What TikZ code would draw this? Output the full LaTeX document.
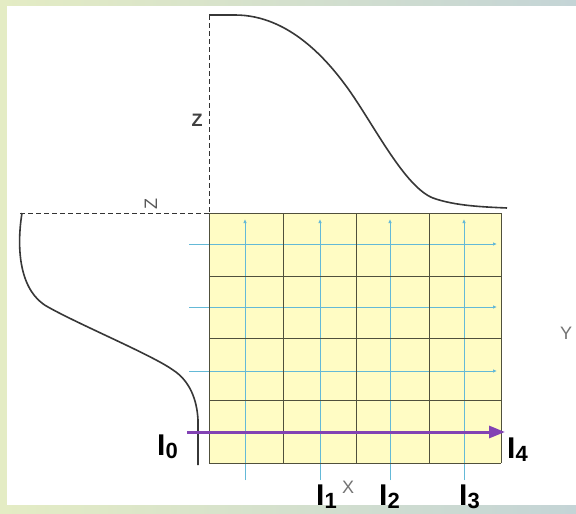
\documentclass[tikz,border=0pt]{standalone}
\usepackage{fontspec}
\setmainfont{Liberation Sans}
\usepackage{tikz}
\usetikzlibrary{arrows.meta}
\definecolor{bandleft}{RGB}{228,236,196}
\definecolor{bandright}{RGB}{196,212,214}
\definecolor{cellfill}{RGB}{255,252,196}
\definecolor{cellline}{RGB}{80,80,60}
\definecolor{flowblue}{RGB}{100,185,215}
\definecolor{beampurple}{RGB}{130,66,180}
\definecolor{profgray}{RGB}{55,55,55}
\newcommand{\Isub}[1]{I\raisebox{-3pt}{\fontsize{22}{22}\selectfont #1}}

\begin{document}
\begin{tikzpicture}[x=1pt,y=-1pt,every node/.style={inner sep=0pt},
  ilabel/.style={font=\fontsize{30}{30}\selectfont\bfseries,anchor=base west},
  axlabel/.style={font=\fontsize{18}{18}\selectfont,text=black!55},
  cellrule/.style={draw=cellline,line width=1pt},
  flowline/.style={draw=flowblue,line width=1pt,-{Latex[length=4pt,width=3.5pt]}},
  profile/.style={draw=profgray,line width=1.6pt},
  refline/.style={draw=black!80,line width=1pt,dash pattern=on 5pt off 3pt},
  beam/.style={draw=beampurple,line width=3pt,-{Triangle[length=16pt,width=12pt]}}]
\useasboundingbox (0,0) rectangle (576,514);
% frame
\shade[left color=bandleft,right color=bandright] (0,0) rectangle (576,514);
\fill[white] (7,6) rectangle (576,505);
% cells
\fill[cellfill] (209,213) rectangle (501,463);
\foreach \x in {245,320,390,464}
  \draw[flowline] (\x,480) -- (\x,219);
\foreach \y in {244,307,371}
  \draw[flowline] (189,\y) -- (497,\y);
\foreach \x in {209,283,356,429,501}
  \draw[cellrule] (\x,213) -- (\x,463);
\foreach \y in {213,276,338,400,463}
  \draw[cellrule] (209,\y) -- (501,\y);
% reference lines
\draw[refline] (209,15) -- (209,213);
\draw[refline] (20,213) -- (209,213);
% profiles
\draw[profile] (209,15) -- (235,15) .. controls (290,15) and (329,62) .. (349,90)
  .. controls (375,127) and (405,187) .. (433,198) .. controls (455,206) and (485,207) .. (507,208);
\draw[profile] (22,213) .. controls (16,250) and (20,292) .. (48,307)
  .. controls (80,325) and (152,355) .. (173,370) .. controls (190,381) and (197,400) .. (198,420) -- (198,465);
% axis letters
\node[axlabel,text=black!75,font=\fontsize{18}{18}\selectfont\bfseries] (zlab) at (197,120) {Z};
\node[axlabel,rotate=90,text=black!65] (zside) at (151,204) {Z};
\node[axlabel] (xlab) at (348,487) {X};
\node[axlabel] (ylab) at (566,333) {Y};
% beam
\coordinate (beamstart) at (187,432);
\coordinate (beamend) at (505,432);
\draw[beam] (beamstart) -- (beamend);
\node[ilabel] (i0) at (157,455) {\Isub{0}};
\node[ilabel] (i1) at (316,505) {\Isub{1}};
\node[ilabel] (i2) at (379,505) {\Isub{2}};
\node[ilabel] (i3) at (459,505) {\Isub{3}};
\node[ilabel] (i4) at (507,458) {\Isub{4}};
\end{tikzpicture}
\end{document}
